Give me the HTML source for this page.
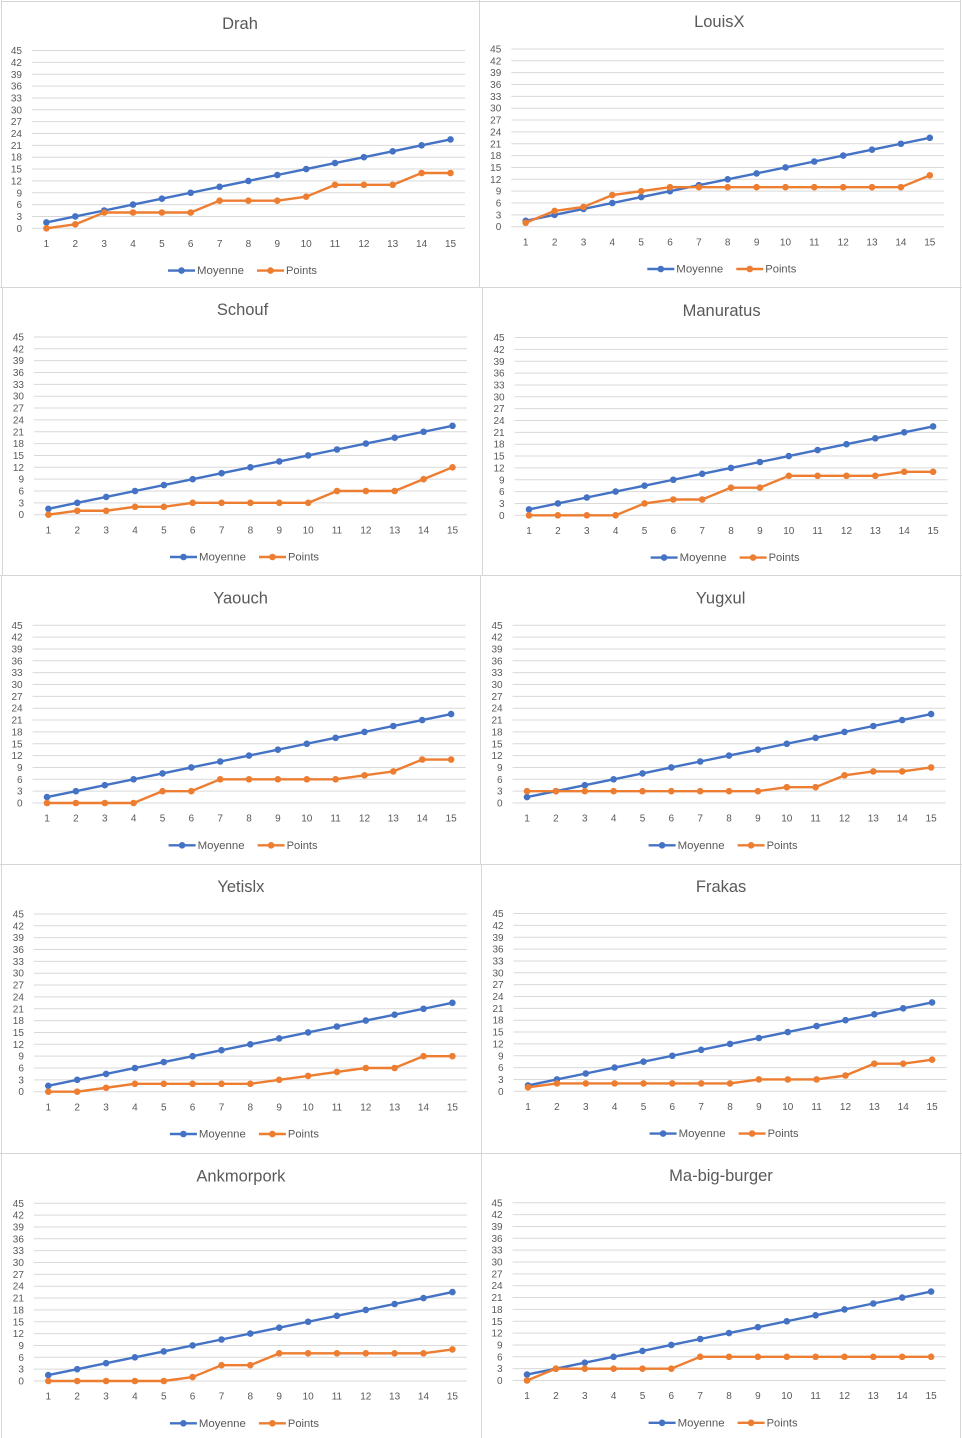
<!DOCTYPE html>
<html>
<head>
<meta charset="utf-8">
<style>
html,body{margin:0;padding:0;background:#fff;width:962px;height:1438px;overflow:hidden}
svg{display:block}
text{font-family:"Liberation Sans",sans-serif;fill:#595959}
.t{font-size:16.5px;text-anchor:middle}
.ya text{font-size:10px;text-anchor:end}
.xa text{font-size:10px;text-anchor:middle}
.l{font-size:11.3px}
.o{fill:none;stroke:#ED7D31;stroke-width:2.4;stroke-linejoin:round;marker-start:url(#mo);marker-mid:url(#mo);marker-end:url(#mo)}
</style>
</head>
<body>
<svg width="962" height="1438" viewBox="0 0 962 1438" xmlns="http://www.w3.org/2000/svg">
<defs>
<marker id="mb" viewBox="-5 -5 10 10" markerWidth="10" markerHeight="10" markerUnits="userSpaceOnUse" refX="0" refY="0"><circle r="3.3" fill="#4472C4"/></marker>
<marker id="mo" viewBox="-5 -5 10 10" markerWidth="10" markerHeight="10" markerUnits="userSpaceOnUse" refX="0" refY="0"><circle r="3.3" fill="#ED7D31"/></marker>
<path id="g" d="M0 0H433M0 -11.85H433M0 -23.7H433M0 -35.55H433M0 -47.4H433M0 -59.25H433M0 -71.1H433M0 -82.95H433M0 -94.8H433M0 -106.65H433M0 -118.5H433M0 -130.35H433M0 -142.2H433M0 -154.05H433M0 -165.9H433M0 -177.75H433" fill="none" stroke="#d9d9d9" stroke-width="1"/>
<polyline id="b" points="14.4,-5.9 43.3,-11.85 72.2,-17.8 101,-23.7 129.9,-29.6 158.7,-35.55 187.6,-41.5 216.4,-47.4 245.3,-53.3 274.2,-59.25 303,-65.2 331.9,-71.1 360.7,-77 389.6,-82.95 418.5,-88.9" fill="none" stroke="#4472C4" stroke-width="2.4" stroke-linejoin="round" marker-start="url(#mb)" marker-mid="url(#mb)" marker-end="url(#mb)"/>
<g id="lg">
<line x1="136" y1="42.3" x2="163" y2="42.3" stroke="#4472C4" stroke-width="2.4"/><circle cx="149.5" cy="42.3" r="3.3" fill="#4472C4"/>
<line x1="225" y1="42.3" x2="252" y2="42.3" stroke="#ED7D31" stroke-width="2.4"/><circle cx="238.5" cy="42.3" r="3.3" fill="#ED7D31"/>
</g>
</defs>

<!-- panel borders -->
<g stroke="#d6d6d6" stroke-width="1" fill="none">
<path d="M1 1.5H961"/>
<path d="M0 287.5H962M0 575.5H962M0 864.5H962M0 1153.5H962"/>
<path d="M1.5 0V287.5M2.5 287.5V575.5M1.5 575.5V1438"/>
<path d="M960.5 0V1438"/>
<path d="M479.5 0V287.5M482.5 287.5V575.5M480.5 575.5V864.5M481.5 864.5V1153.5M481.5 1153.5V1438"/>
</g>

<!-- Chart 1 Drah -->
<g transform="translate(32 228.3)">
<use href="#g"/><use href="#b"/>
<polyline class="o" points="14.4,0 43.3,-3.95 72.2,-15.8 101,-15.8 129.9,-15.8 158.7,-15.8 187.6,-27.65 216.4,-27.65 245.3,-27.65 274.2,-31.6 303,-43.45 331.9,-43.45 360.7,-43.45 389.6,-55.3 418.5,-55.3"/>
<use href="#lg"/>
<text class="t" x="208" y="-199.5">Drah</text>
<g class="ya"><text x="-10" y="-174.25">45</text><text x="-10" y="-162.4">42</text><text x="-10" y="-150.55">39</text><text x="-10" y="-138.7">36</text><text x="-10" y="-126.85">33</text><text x="-10" y="-115">30</text><text x="-10" y="-103.15">27</text><text x="-10" y="-91.3">24</text><text x="-10" y="-79.45">21</text><text x="-10" y="-67.6">18</text><text x="-10" y="-55.75">15</text><text x="-10" y="-43.9">12</text><text x="-10" y="-32.05">9</text><text x="-10" y="-20.2">6</text><text x="-10" y="-8.35">3</text><text x="-10" y="3.5">0</text></g>
<g class="xa"><text x="14.4" y="18.6">1</text><text x="43.3" y="18.6">2</text><text x="72.2" y="18.6">3</text><text x="101" y="18.6">4</text><text x="129.9" y="18.6">5</text><text x="158.7" y="18.6">6</text><text x="187.6" y="18.6">7</text><text x="216.4" y="18.6">8</text><text x="245.3" y="18.6">9</text><text x="274.2" y="18.6">10</text><text x="303" y="18.6">11</text><text x="331.9" y="18.6">12</text><text x="360.7" y="18.6">13</text><text x="389.6" y="18.6">14</text><text x="418.5" y="18.6">15</text></g>
<text class="l" x="165" y="45.8" textLength="47" lengthAdjust="spacingAndGlyphs">Moyenne</text>
<text class="l" x="254" y="45.8" textLength="31" lengthAdjust="spacingAndGlyphs">Points</text>
</g>

<!-- Chart 2 LouisX -->
<g transform="translate(511.3 226.7)">
<use href="#g"/><use href="#b"/>
<polyline class="o" points="14.4,-3.95 43.3,-15.8 72.2,-19.75 101,-31.6 129.9,-35.55 158.7,-39.5 187.6,-39.5 216.4,-39.5 245.3,-39.5 274.2,-39.5 303,-39.5 331.9,-39.5 360.7,-39.5 389.6,-39.5 418.5,-51.35"/>
<use href="#lg"/>
<text class="t" x="208" y="-199.5">LouisX</text>
<g class="ya"><text x="-10" y="-174.25">45</text><text x="-10" y="-162.4">42</text><text x="-10" y="-150.55">39</text><text x="-10" y="-138.7">36</text><text x="-10" y="-126.85">33</text><text x="-10" y="-115">30</text><text x="-10" y="-103.15">27</text><text x="-10" y="-91.3">24</text><text x="-10" y="-79.45">21</text><text x="-10" y="-67.6">18</text><text x="-10" y="-55.75">15</text><text x="-10" y="-43.9">12</text><text x="-10" y="-32.05">9</text><text x="-10" y="-20.2">6</text><text x="-10" y="-8.35">3</text><text x="-10" y="3.5">0</text></g>
<g class="xa"><text x="14.4" y="18.6">1</text><text x="43.3" y="18.6">2</text><text x="72.2" y="18.6">3</text><text x="101" y="18.6">4</text><text x="129.9" y="18.6">5</text><text x="158.7" y="18.6">6</text><text x="187.6" y="18.6">7</text><text x="216.4" y="18.6">8</text><text x="245.3" y="18.6">9</text><text x="274.2" y="18.6">10</text><text x="303" y="18.6">11</text><text x="331.9" y="18.6">12</text><text x="360.7" y="18.6">13</text><text x="389.6" y="18.6">14</text><text x="418.5" y="18.6">15</text></g>
<text class="l" x="165" y="45.8" textLength="47" lengthAdjust="spacingAndGlyphs">Moyenne</text>
<text class="l" x="254" y="45.8" textLength="31" lengthAdjust="spacingAndGlyphs">Points</text>
</g>

<!-- Chart 3 Schouf -->
<g transform="translate(34 514.7)">
<use href="#g"/><use href="#b"/>
<polyline class="o" points="14.4,0 43.3,-3.95 72.2,-3.95 101,-7.9 129.9,-7.9 158.7,-11.85 187.6,-11.85 216.4,-11.85 245.3,-11.85 274.2,-11.85 303,-23.7 331.9,-23.7 360.7,-23.7 389.6,-35.55 418.5,-47.4"/>
<use href="#lg"/>
<text class="t" x="208.5" y="-199.5">Schouf</text>
<g class="ya"><text x="-10" y="-174.25">45</text><text x="-10" y="-162.4">42</text><text x="-10" y="-150.55">39</text><text x="-10" y="-138.7">36</text><text x="-10" y="-126.85">33</text><text x="-10" y="-115">30</text><text x="-10" y="-103.15">27</text><text x="-10" y="-91.3">24</text><text x="-10" y="-79.45">21</text><text x="-10" y="-67.6">18</text><text x="-10" y="-55.75">15</text><text x="-10" y="-43.9">12</text><text x="-10" y="-32.05">9</text><text x="-10" y="-20.2">6</text><text x="-10" y="-8.35">3</text><text x="-10" y="3.5">0</text></g>
<g class="xa"><text x="14.4" y="18.6">1</text><text x="43.3" y="18.6">2</text><text x="72.2" y="18.6">3</text><text x="101" y="18.6">4</text><text x="129.9" y="18.6">5</text><text x="158.7" y="18.6">6</text><text x="187.6" y="18.6">7</text><text x="216.4" y="18.6">8</text><text x="245.3" y="18.6">9</text><text x="274.2" y="18.6">10</text><text x="303" y="18.6">11</text><text x="331.9" y="18.6">12</text><text x="360.7" y="18.6">13</text><text x="389.6" y="18.6">14</text><text x="418.5" y="18.6">15</text></g>
<text class="l" x="165" y="45.8" textLength="47" lengthAdjust="spacingAndGlyphs">Moyenne</text>
<text class="l" x="254" y="45.8" textLength="31" lengthAdjust="spacingAndGlyphs">Points</text>
</g>

<!-- Chart 4 Manuratus -->
<g transform="translate(514.6 515.3)">
<use href="#g"/><use href="#b"/>
<polyline class="o" points="14.4,0 43.3,0 72.2,0 101,0 129.9,-11.85 158.7,-15.8 187.6,-15.8 216.4,-27.65 245.3,-27.65 274.2,-39.5 303,-39.5 331.9,-39.5 360.7,-39.5 389.6,-43.45 418.5,-43.45"/>
<use href="#lg"/>
<text class="t" x="207" y="-199.5">Manuratus</text>
<g class="ya"><text x="-10" y="-174.25">45</text><text x="-10" y="-162.4">42</text><text x="-10" y="-150.55">39</text><text x="-10" y="-138.7">36</text><text x="-10" y="-126.85">33</text><text x="-10" y="-115">30</text><text x="-10" y="-103.15">27</text><text x="-10" y="-91.3">24</text><text x="-10" y="-79.45">21</text><text x="-10" y="-67.6">18</text><text x="-10" y="-55.75">15</text><text x="-10" y="-43.9">12</text><text x="-10" y="-32.05">9</text><text x="-10" y="-20.2">6</text><text x="-10" y="-8.35">3</text><text x="-10" y="3.5">0</text></g>
<g class="xa"><text x="14.4" y="18.6">1</text><text x="43.3" y="18.6">2</text><text x="72.2" y="18.6">3</text><text x="101" y="18.6">4</text><text x="129.9" y="18.6">5</text><text x="158.7" y="18.6">6</text><text x="187.6" y="18.6">7</text><text x="216.4" y="18.6">8</text><text x="245.3" y="18.6">9</text><text x="274.2" y="18.6">10</text><text x="303" y="18.6">11</text><text x="331.9" y="18.6">12</text><text x="360.7" y="18.6">13</text><text x="389.6" y="18.6">14</text><text x="418.5" y="18.6">15</text></g>
<text class="l" x="165" y="45.8" textLength="47" lengthAdjust="spacingAndGlyphs">Moyenne</text>
<text class="l" x="254" y="45.8" textLength="31" lengthAdjust="spacingAndGlyphs">Points</text>
</g>

<!-- Chart 5 Yaouch -->
<g transform="translate(32.6 803)">
<use href="#g"/><use href="#b"/>
<polyline class="o" points="14.4,0 43.3,0 72.2,0 101,0 129.9,-11.85 158.7,-11.85 187.6,-23.7 216.4,-23.7 245.3,-23.7 274.2,-23.7 303,-23.7 331.9,-27.65 360.7,-31.6 389.6,-43.45 418.5,-43.45"/>
<use href="#lg"/>
<text class="t" x="208" y="-199.5">Yaouch</text>
<g class="ya"><text x="-10" y="-174.25">45</text><text x="-10" y="-162.4">42</text><text x="-10" y="-150.55">39</text><text x="-10" y="-138.7">36</text><text x="-10" y="-126.85">33</text><text x="-10" y="-115">30</text><text x="-10" y="-103.15">27</text><text x="-10" y="-91.3">24</text><text x="-10" y="-79.45">21</text><text x="-10" y="-67.6">18</text><text x="-10" y="-55.75">15</text><text x="-10" y="-43.9">12</text><text x="-10" y="-32.05">9</text><text x="-10" y="-20.2">6</text><text x="-10" y="-8.35">3</text><text x="-10" y="3.5">0</text></g>
<g class="xa"><text x="14.4" y="18.6">1</text><text x="43.3" y="18.6">2</text><text x="72.2" y="18.6">3</text><text x="101" y="18.6">4</text><text x="129.9" y="18.6">5</text><text x="158.7" y="18.6">6</text><text x="187.6" y="18.6">7</text><text x="216.4" y="18.6">8</text><text x="245.3" y="18.6">9</text><text x="274.2" y="18.6">10</text><text x="303" y="18.6">11</text><text x="331.9" y="18.6">12</text><text x="360.7" y="18.6">13</text><text x="389.6" y="18.6">14</text><text x="418.5" y="18.6">15</text></g>
<text class="l" x="165" y="45.8" textLength="47" lengthAdjust="spacingAndGlyphs">Moyenne</text>
<text class="l" x="254" y="45.8" textLength="31" lengthAdjust="spacingAndGlyphs">Points</text>
</g>

<!-- Chart 6 Yugxul -->
<g transform="translate(512.6 803)">
<use href="#g"/><use href="#b"/>
<polyline class="o" points="14.4,-11.85 43.3,-11.85 72.2,-11.85 101,-11.85 129.9,-11.85 158.7,-11.85 187.6,-11.85 216.4,-11.85 245.3,-11.85 274.2,-15.8 303,-15.8 331.9,-27.65 360.7,-31.6 389.6,-31.6 418.5,-35.55"/>
<use href="#lg"/>
<text class="t" x="208" y="-199.5">Yugxul</text>
<g class="ya"><text x="-10" y="-174.25">45</text><text x="-10" y="-162.4">42</text><text x="-10" y="-150.55">39</text><text x="-10" y="-138.7">36</text><text x="-10" y="-126.85">33</text><text x="-10" y="-115">30</text><text x="-10" y="-103.15">27</text><text x="-10" y="-91.3">24</text><text x="-10" y="-79.45">21</text><text x="-10" y="-67.6">18</text><text x="-10" y="-55.75">15</text><text x="-10" y="-43.9">12</text><text x="-10" y="-32.05">9</text><text x="-10" y="-20.2">6</text><text x="-10" y="-8.35">3</text><text x="-10" y="3.5">0</text></g>
<g class="xa"><text x="14.4" y="18.6">1</text><text x="43.3" y="18.6">2</text><text x="72.2" y="18.6">3</text><text x="101" y="18.6">4</text><text x="129.9" y="18.6">5</text><text x="158.7" y="18.6">6</text><text x="187.6" y="18.6">7</text><text x="216.4" y="18.6">8</text><text x="245.3" y="18.6">9</text><text x="274.2" y="18.6">10</text><text x="303" y="18.6">11</text><text x="331.9" y="18.6">12</text><text x="360.7" y="18.6">13</text><text x="389.6" y="18.6">14</text><text x="418.5" y="18.6">15</text></g>
<text class="l" x="165" y="45.8" textLength="47" lengthAdjust="spacingAndGlyphs">Moyenne</text>
<text class="l" x="254" y="45.8" textLength="31" lengthAdjust="spacingAndGlyphs">Points</text>
</g>

<!-- Chart 7 Yetislx -->
<g transform="translate(33.9 1091.7)">
<use href="#g"/><use href="#b"/>
<polyline class="o" points="14.4,0 43.3,0 72.2,-3.95 101,-7.9 129.9,-7.9 158.7,-7.9 187.6,-7.9 216.4,-7.9 245.3,-11.85 274.2,-15.8 303,-19.75 331.9,-23.7 360.7,-23.7 389.6,-35.55 418.5,-35.55"/>
<use href="#lg"/>
<text class="t" x="207" y="-199.5">Yetislx</text>
<g class="ya"><text x="-10" y="-174.25">45</text><text x="-10" y="-162.4">42</text><text x="-10" y="-150.55">39</text><text x="-10" y="-138.7">36</text><text x="-10" y="-126.85">33</text><text x="-10" y="-115">30</text><text x="-10" y="-103.15">27</text><text x="-10" y="-91.3">24</text><text x="-10" y="-79.45">21</text><text x="-10" y="-67.6">18</text><text x="-10" y="-55.75">15</text><text x="-10" y="-43.9">12</text><text x="-10" y="-32.05">9</text><text x="-10" y="-20.2">6</text><text x="-10" y="-8.35">3</text><text x="-10" y="3.5">0</text></g>
<g class="xa"><text x="14.4" y="18.6">1</text><text x="43.3" y="18.6">2</text><text x="72.2" y="18.6">3</text><text x="101" y="18.6">4</text><text x="129.9" y="18.6">5</text><text x="158.7" y="18.6">6</text><text x="187.6" y="18.6">7</text><text x="216.4" y="18.6">8</text><text x="245.3" y="18.6">9</text><text x="274.2" y="18.6">10</text><text x="303" y="18.6">11</text><text x="331.9" y="18.6">12</text><text x="360.7" y="18.6">13</text><text x="389.6" y="18.6">14</text><text x="418.5" y="18.6">15</text></g>
<text class="l" x="165" y="45.8" textLength="47" lengthAdjust="spacingAndGlyphs">Moyenne</text>
<text class="l" x="254" y="45.8" textLength="31" lengthAdjust="spacingAndGlyphs">Points</text>
</g>

<!-- Chart 8 Frakas -->
<g transform="translate(513.6 1091.3)">
<use href="#g"/><use href="#b"/>
<polyline class="o" points="14.4,-3.95 43.3,-7.9 72.2,-7.9 101,-7.9 129.9,-7.9 158.7,-7.9 187.6,-7.9 216.4,-7.9 245.3,-11.85 274.2,-11.85 303,-11.85 331.9,-15.8 360.7,-27.65 389.6,-27.65 418.5,-31.6"/>
<use href="#lg"/>
<text class="t" x="207.5" y="-199.5">Frakas</text>
<g class="ya"><text x="-10" y="-174.25">45</text><text x="-10" y="-162.4">42</text><text x="-10" y="-150.55">39</text><text x="-10" y="-138.7">36</text><text x="-10" y="-126.85">33</text><text x="-10" y="-115">30</text><text x="-10" y="-103.15">27</text><text x="-10" y="-91.3">24</text><text x="-10" y="-79.45">21</text><text x="-10" y="-67.6">18</text><text x="-10" y="-55.75">15</text><text x="-10" y="-43.9">12</text><text x="-10" y="-32.05">9</text><text x="-10" y="-20.2">6</text><text x="-10" y="-8.35">3</text><text x="-10" y="3.5">0</text></g>
<g class="xa"><text x="14.4" y="18.6">1</text><text x="43.3" y="18.6">2</text><text x="72.2" y="18.6">3</text><text x="101" y="18.6">4</text><text x="129.9" y="18.6">5</text><text x="158.7" y="18.6">6</text><text x="187.6" y="18.6">7</text><text x="216.4" y="18.6">8</text><text x="245.3" y="18.6">9</text><text x="274.2" y="18.6">10</text><text x="303" y="18.6">11</text><text x="331.9" y="18.6">12</text><text x="360.7" y="18.6">13</text><text x="389.6" y="18.6">14</text><text x="418.5" y="18.6">15</text></g>
<text class="l" x="165" y="45.8" textLength="47" lengthAdjust="spacingAndGlyphs">Moyenne</text>
<text class="l" x="254" y="45.8" textLength="31" lengthAdjust="spacingAndGlyphs">Points</text>
</g>

<!-- Chart 9 Ankmorpork -->
<g transform="translate(33.9 1381)">
<use href="#g"/><use href="#b"/>
<polyline class="o" points="14.4,0 43.3,0 72.2,0 101,0 129.9,0 158.7,-3.95 187.6,-15.8 216.4,-15.8 245.3,-27.65 274.2,-27.65 303,-27.65 331.9,-27.65 360.7,-27.65 389.6,-27.65 418.5,-31.6"/>
<use href="#lg"/>
<text class="t" x="207" y="-199.5">Ankmorpork</text>
<g class="ya"><text x="-10" y="-174.25">45</text><text x="-10" y="-162.4">42</text><text x="-10" y="-150.55">39</text><text x="-10" y="-138.7">36</text><text x="-10" y="-126.85">33</text><text x="-10" y="-115">30</text><text x="-10" y="-103.15">27</text><text x="-10" y="-91.3">24</text><text x="-10" y="-79.45">21</text><text x="-10" y="-67.6">18</text><text x="-10" y="-55.75">15</text><text x="-10" y="-43.9">12</text><text x="-10" y="-32.05">9</text><text x="-10" y="-20.2">6</text><text x="-10" y="-8.35">3</text><text x="-10" y="3.5">0</text></g>
<g class="xa"><text x="14.4" y="18.6">1</text><text x="43.3" y="18.6">2</text><text x="72.2" y="18.6">3</text><text x="101" y="18.6">4</text><text x="129.9" y="18.6">5</text><text x="158.7" y="18.6">6</text><text x="187.6" y="18.6">7</text><text x="216.4" y="18.6">8</text><text x="245.3" y="18.6">9</text><text x="274.2" y="18.6">10</text><text x="303" y="18.6">11</text><text x="331.9" y="18.6">12</text><text x="360.7" y="18.6">13</text><text x="389.6" y="18.6">14</text><text x="418.5" y="18.6">15</text></g>
<text class="l" x="165" y="45.8" textLength="47" lengthAdjust="spacingAndGlyphs">Moyenne</text>
<text class="l" x="254" y="45.8" textLength="31" lengthAdjust="spacingAndGlyphs">Points</text>
</g>

<!-- Chart 10 Ma-big-burger -->
<g transform="translate(512.6 1380.5)">
<use href="#g"/><use href="#b"/>
<polyline class="o" points="14.4,0 43.3,-11.85 72.2,-11.85 101,-11.85 129.9,-11.85 158.7,-11.85 187.6,-23.7 216.4,-23.7 245.3,-23.7 274.2,-23.7 303,-23.7 331.9,-23.7 360.7,-23.7 389.6,-23.7 418.5,-23.7"/>
<use href="#lg"/>
<text class="t" x="208.4" y="-199.5">Ma-big-burger</text>
<g class="ya"><text x="-10" y="-174.25">45</text><text x="-10" y="-162.4">42</text><text x="-10" y="-150.55">39</text><text x="-10" y="-138.7">36</text><text x="-10" y="-126.85">33</text><text x="-10" y="-115">30</text><text x="-10" y="-103.15">27</text><text x="-10" y="-91.3">24</text><text x="-10" y="-79.45">21</text><text x="-10" y="-67.6">18</text><text x="-10" y="-55.75">15</text><text x="-10" y="-43.9">12</text><text x="-10" y="-32.05">9</text><text x="-10" y="-20.2">6</text><text x="-10" y="-8.35">3</text><text x="-10" y="3.5">0</text></g>
<g class="xa"><text x="14.4" y="18.6">1</text><text x="43.3" y="18.6">2</text><text x="72.2" y="18.6">3</text><text x="101" y="18.6">4</text><text x="129.9" y="18.6">5</text><text x="158.7" y="18.6">6</text><text x="187.6" y="18.6">7</text><text x="216.4" y="18.6">8</text><text x="245.3" y="18.6">9</text><text x="274.2" y="18.6">10</text><text x="303" y="18.6">11</text><text x="331.9" y="18.6">12</text><text x="360.7" y="18.6">13</text><text x="389.6" y="18.6">14</text><text x="418.5" y="18.6">15</text></g>
<text class="l" x="165" y="45.8" textLength="47" lengthAdjust="spacingAndGlyphs">Moyenne</text>
<text class="l" x="254" y="45.8" textLength="31" lengthAdjust="spacingAndGlyphs">Points</text>
</g>

</svg>
</body>
</html>
